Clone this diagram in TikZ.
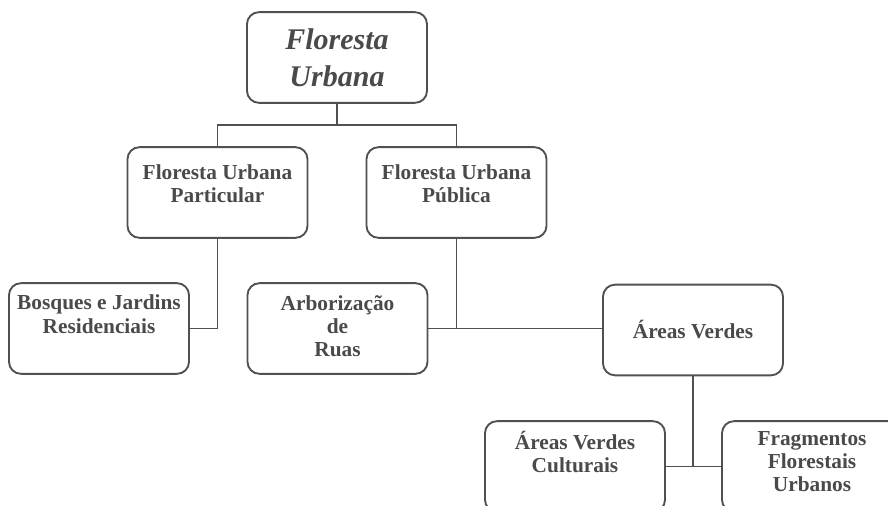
\documentclass[tikz,border=0pt]{standalone}
\usepackage{fontspec}
\setmainfont{Liberation Serif}
\usetikzlibrary{positioning}
\definecolor{inkgray}{HTML}{4A4A4A}
\definecolor{linegray}{HTML}{505050}
% text that starts near the top of a box
\newcommand{\toptext}[2][9pt]{\parbox[c][68pt][t]{132pt}{\centering\vspace*{#1}#2}}

\begin{document}
\begin{tikzpicture}[x=0.75pt,y=-0.75pt,
box/.style={draw=linegray, line width=1.4pt, rounded corners=9pt, minimum width=135pt,
    minimum height=68pt, inner sep=0pt, text=inkgray, align=center,
    font=\fontsize{16}{17.5}\selectfont\bfseries},
link/.style={draw=linegray, line width=1.4pt}]
\clip (0,0) rectangle (888,506);
\fill[white] (0,0) rectangle (888,506);

\node[box, font=\fontsize{22.5}{28}\selectfont\bfseries\itshape] (urbana) at (337,57.5) {Floresta\\Urbana};
\node[box] (particular) at (217.5,192.5) {\toptext[13pt]{Floresta Urbana\\Particular}};
\node[box] (publica) at (456.5,192.5) {\toptext[13pt]{Floresta Urbana\\Pública}};
\node[box] (bosques) at (99,328.5) {\toptext{Bosques e Jardins\\Residenciais}};
\node[box] (ruas) at (337.5,328.5) {\toptext{Arborização\\de\\Ruas}};
\node[box] (verdes) at (693,330) {Áreas Verdes};
\node[box] (culturais) at (575,466.5) {\toptext[7.5pt]{Áreas Verdes\\Culturais}};
\node[box] (fragmentos) at (812,466.5) {\toptext[7.5pt]{Fragmentos\\Florestais\\Urbanos}};

\coordinate (split) at (337,125);
\draw[link] (urbana.south) -- (split);
\draw[link] (particular.north) |- (split) -| (publica.north);
\draw[link] (particular.south) |- (bosques.east);
\draw[link] (publica.south) -- (publica.south |- ruas.east);
\draw[link] (ruas.east) -- (ruas.east -| verdes.west);
\draw[link] (verdes.south) -- (verdes.south |- culturais.east);
\draw[link] (culturais.east) -- (fragmentos.west);
\end{tikzpicture}
\end{document}
